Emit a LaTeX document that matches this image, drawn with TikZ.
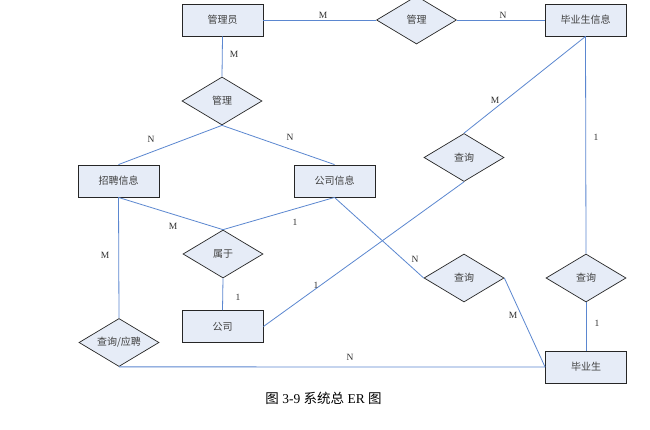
\documentclass[tikz,border=0pt]{standalone}
\usepackage{fontspec}
\setmainfont{Liberation Serif}
\newfontfamily\cjk{Noto Sans CJK SC}
\usetikzlibrary{shapes.geometric}
\definecolor{boxfill}{HTML}{E6ECF7}
\definecolor{linkblue}{HTML}{5B87D0}
\tikzset{
  entity/.style={draw=black!85, line width=0.9pt, fill=boxfill, minimum width=81pt, minimum height=32pt,
    inner sep=0pt, font=\cjk\fontsize{10}{11}\selectfont, text=black!75},
  relation/.style={draw=black!85, line width=0.7pt, fill=boxfill, diamond, aspect=1.667,
    minimum width=80pt, minimum height=48pt, inner sep=0pt, font=\cjk\fontsize{10}{11}\selectfont, text=black!75},
  link/.style={draw=linkblue, line width=0.8pt},
  card/.style={font=\fontsize{9.5}{10}\selectfont, inner sep=0pt, text=black!80},
}
\begin{document}
\begin{tikzpicture}[x=1pt,y=-1pt]
\useasboundingbox[fill=white] (0,0) rectangle (650,430);
% entities
\node[entity] (gly)   at (222.5,20)  {管理员};
\node[entity] (byxx)  at (585.5,20)  {毕业生信息};
\node[entity] (zpxx)  at (118.5,181) {招聘信息};
\node[entity] (gsxx)  at (334.5,181) {公司信息};
\node[entity] (gs)    at (222.5,326.5) {公司};
\node[entity] (bys)   at (586,367)   {毕业生};
% relations
\node[relation] (gl1) at (416.5,20)  {管理};
\node[relation] (gl2) at (222,101)   {管理};
\node[relation] (cx1) at (464,157.5) {查询};
\node[relation] (sy)  at (223,254)   {属于};
\node[relation] (cxyp) at (119,342.5) {查询/应聘};
\node[relation] (cx2) at (464,278)   {查询};
\node[relation] (cx3) at (586,278)   {查询};
% links
\draw[link] (gly.east) -- (gl1.west);
\draw[link] (gl1.east) -- (byxx.west);
\draw[link] (gly.south) -- (gl2.north);
\draw[link] (gl2.south) -- (zpxx.north);
\draw[link] (gl2.south) -- (gsxx.north);
\draw[link] (byxx.south) -- (cx1.north);
\draw[link] (byxx.south) -- (cx3.north);
\draw[link] (cx1.south) -- (gs.east);
\draw[link] (zpxx.south) -- (sy.north);
\draw[link] (gsxx.south) -- (sy.north);
\draw[link] (sy.south) -- (gs.north);
\draw[link] (zpxx.south) -- (cxyp.north);
\draw[link] (cxyp.south) -- (bys.west);
\draw[link] (gsxx.south) -- (cx2.west);
\draw[link] (cx2.east) -- (bys.west);
\draw[link] (cx3.south) -- (bys.north);
% cardinalities
\node[card] (c1)  at (323,15)  {M};
\node[card] (c2)  at (503,15)  {N};
\node[card] (c3)  at (234,54)  {M};
\node[card] (c4)  at (151,139) {N};
\node[card] (c5)  at (290,137) {N};
\node[card] (c6)  at (495,100) {M};
\node[card] (c7)  at (596,137) {1};
\node[card] (c8)  at (173,226) {M};
\node[card] (c9)  at (295,222) {1};
\node[card] (c10) at (238,297) {1};
\node[card] (c11) at (105,255) {M};
\node[card] (c12) at (316,285) {1};
\node[card] (c13) at (415,259) {N};
\node[card] (c14) at (513,315) {M};
\node[card] (c15) at (350,357) {N};
\node[card] (c16) at (597,323) {1};
% caption
\node[inner sep=0pt, font=\fontsize{13.5}{14}\selectfont] (cap) at (323.5,398)
  {{\cjk 图} 3-9 {\cjk 系统总} ER {\cjk 图}};
\end{tikzpicture}
\end{document}
